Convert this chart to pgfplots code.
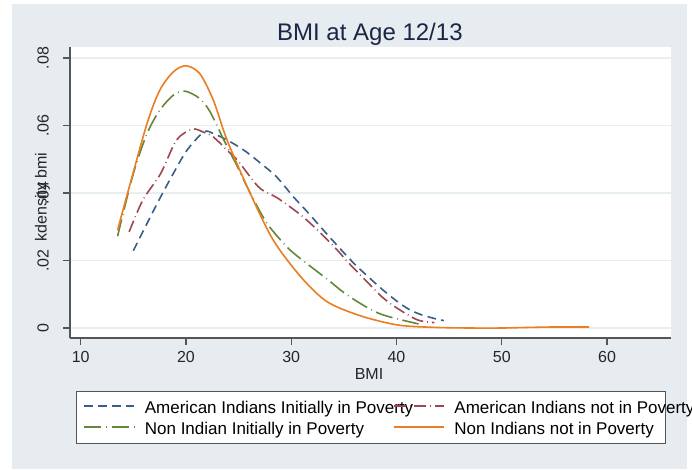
\documentclass[border=0pt]{standalone}
\usepackage{pgfplots}
\pgfplotsset{compat=1.18}
\usepackage{fontspec}
\setmainfont{Liberation Sans}

\definecolor{bgcol}{RGB}{230,236,240}
\definecolor{gridcol}{RGB}{232,239,241}
\definecolor{axiscol}{RGB}{85,85,85}
\definecolor{titlecol}{RGB}{28,38,70}
\definecolor{sblue}{RGB}{58,94,135}
\definecolor{sred}{RGB}{160,70,80}
\definecolor{sgreen}{RGB}{100,135,60}
\definecolor{sorange}{RGB}{235,125,35}

\pgfplotstableread{
x y
15.0 0.0229
16.3 0.0310
17.6 0.0389
18.8 0.0458
20.1 0.0527
21.7 0.0581
22.6 0.0576
23.9 0.0557
25.5 0.0527
27.1 0.0488
28.6 0.0448
30.2 0.0389
31.5 0.0345
33.0 0.0292
34.5 0.0240
36.0 0.0190
37.2 0.0155
38.7 0.0113
40.1 0.0078
41.2 0.0055
42.3 0.0040
43.5 0.0029
44.5 0.0022
}\amipov

\pgfplotstableread{
x y
14.6 0.0285
15.9 0.0379
17.6 0.0458
19.1 0.0557
20.6 0.0589
21.6 0.0581
22.6 0.0566
23.9 0.0527
24.9 0.0497
26.1 0.0448
27.1 0.0412
28.7 0.0385
30.9 0.0335
32.5 0.0290
34.1 0.0240
35.6 0.0188
37.2 0.0137
38.7 0.0090
40.1 0.0058
42.0 0.0024
43.6 0.0016
}\aminotpov

\pgfplotstableread{
x y
13.5 0.0272
15.0 0.0458
16.3 0.0576
17.5 0.0645
18.8 0.0690
19.9 0.0702
21.3 0.0680
22.3 0.0640
23.6 0.0557
24.9 0.0477
26.1 0.0400
27.7 0.0310
29.6 0.0240
30.9 0.0205
33.4 0.0145
35.0 0.0105
36.6 0.0072
38.2 0.0045
39.7 0.0030
42.1 0.0012
}\nonpov

\pgfplotstableread{
x y
13.5 0.0290
14.7 0.0428
16.3 0.0606
17.5 0.0704
18.8 0.0759
20.0 0.0777
21.3 0.0754
22.6 0.0675
23.9 0.0557
26.1 0.0399
28.3 0.0260
30.9 0.0152
33.4 0.0078
36.6 0.0036
40.1 0.0009
43.5 0.0002
47.0 0.0000
50.0 0.0000
53.0 0.0002
55.0 0.0003
58.3 0.0003
}\nonnotpov

\begin{document}
\begin{tikzpicture}
\path[use as bounding box] (0,0) rectangle (519pt,351.75pt);
\fill[bgcol] (9pt,0pt) rectangle (515.25pt,348.75pt);
% legend frame (the legend itself is drawn without one)
\draw[axiscol, line width=0.6pt, fill=white] (57pt,19.5pt) rectangle (498.75pt,58.5pt);
\begin{axis}[
  at={(52.5pt,98.25pt)}, anchor=south west,
  scale only axis, width=450.75pt, height=218.25pt,
  xmin=8.98, xmax=66.08, ymin=-0.00296, ymax=0.08326,
  axis x line*=bottom, axis y line*=left,
  axis line style={axiscol, line width=1pt},
  axis background/.style={fill=white},
  tick align=outside, major tick length=5.25pt,
  tick style={axiscol, line width=0.8pt},
  scaled y ticks=false,
  xtick={10,20,30,40,50,60}, xticklabels={10,20,30,40,50,60},
  ytick={0,0.02,0.04,0.06,0.08}, yticklabels={0,.02,.04,.06,.08},
  /pgf/number format/assume math mode=true,
  ticklabel style={font=\fontsize{12}{14}\selectfont, text=black!85},
  xticklabel style={anchor=north, inner sep=0pt, yshift=-4.5pt},
  yticklabel style={xshift=-10.5pt, rotate=90, anchor=south, inner sep=0pt},
  ymajorgrids, major grid style={gridcol, line width=1.2pt},
  every axis title shift=0pt,
  title={BMI at Age 12/13},
  title style={at={(0.499,1.024)}, anchor=base, font=\fontsize{18}{21}\selectfont, text=titlecol},
  xlabel={BMI},
  xlabel style={at={(0.4975,-0.1443)}, anchor=base, font=\fontsize{12}{14}\selectfont, text=black!85},
  ylabel={kdensity bmi},
  ylabel style={at={(-0.0389,0.4845)}, anchor=base, rotate=0, font=\fontsize{12}{14}\selectfont, text=black!85},
  legend columns=2,
  legend cell align=left,
  legend image code/.code={\draw[#1] (0pt,0pt) -- (37.5pt,0pt); \path (45pt,0pt);},
  legend style={at={(0.00998,-0.1821)}, anchor=north west, fill=none,
    draw=none, inner xsep=5.25pt, inner ysep=3.5pt,
    column sep=0pt, row sep=0.25pt,
    font=\fontsize{12.75}{15}\selectfont,
    nodes={inner sep=0pt, text height=13pt, text depth=2.5pt}},
]
\addplot[draw=sblue, line width=1.2pt, smooth, dash pattern=on 6.5pt off 4pt] table {\amipov};
\addlegendentry{\makebox[186pt][l]{American Indians Initially in Poverty}}
\addplot[draw=sred, line width=1.2pt, smooth, dash pattern=on 9pt off 3pt on 0.6pt off 3pt] table {\aminotpov};
\addlegendentry{\makebox[155.25pt][l]{American Indians not in Poverty}}
\addplot[draw=sgreen, line width=1.2pt, smooth, dash pattern=on 13pt off 3.5pt on 0.6pt off 3.5pt] table {\nonpov};
\addlegendentry{\makebox[186pt][l]{Non Indian Initially in Poverty}}
\addplot[draw=sorange, line width=1.2pt, smooth, solid] table {\nonnotpov};
\addlegendentry{\makebox[155.25pt][l]{Non Indians not in Poverty}}
\end{axis}
\end{tikzpicture}
\end{document}
